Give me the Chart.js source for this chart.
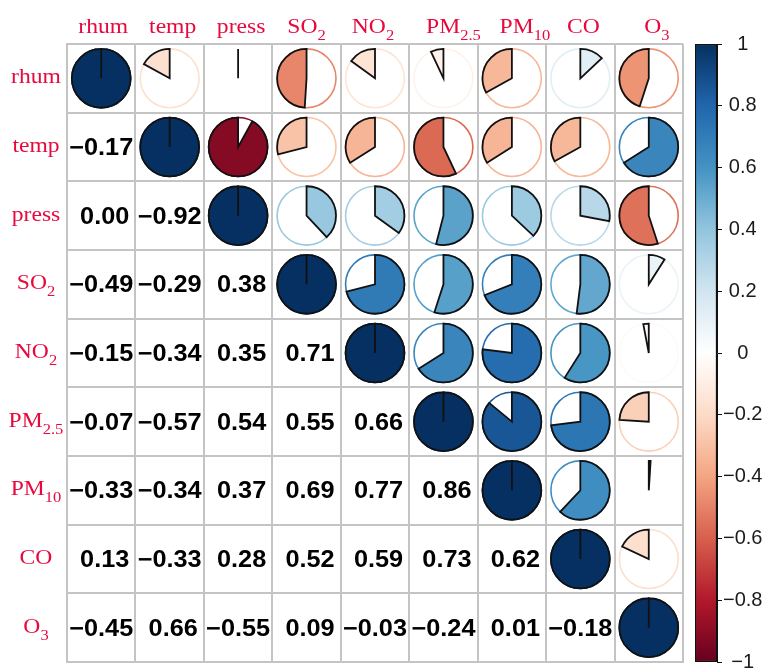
<!DOCTYPE html>
<html>
<head>
<meta charset="utf-8">
<script src="https://cdn.jsdelivr.net/npm/chart.js@4/dist/chart.umd.min.js"></script>
<style>
  html, body { margin: 0; padding: 0; background: #fff; overflow: hidden; }
  #wrap { position: relative; width: 766px; height: 670px; }
  #matrix { position: absolute; left: 0; top: 0; }
  #legend { position: absolute; left: 680px; top: 0; }
</style>
</head>
<body>
<div id="wrap">
  <canvas id="matrix" width="766" height="670"></canvas>
  <canvas id="legend" width="86" height="700"></canvas>
</div>
<script>
// Variables (matrix rows / columns, top-to-bottom and left-to-right)
const variables = ['rhum', 'temp', 'press', 'SO2', 'NO2', 'PM2.5', 'PM10', 'CO', 'O3'];
// Display form of each name: main text + subscript
const labelMain = ['rhum', 'temp', 'press', 'SO', 'NO', 'PM', 'PM', 'CO', 'O'];
const labelSub  = ['', '', '', '2', '2', '2.5', '10', '', '3'];

// Lower triangle of the Pearson correlation matrix, one row per variable
const rowRhum  = [1];
const rowTemp  = [-0.17, 1];
const rowPress = [0.00, -0.92, 1];
const rowSO2   = [-0.49, -0.29, 0.38, 1];
const rowNO2   = [-0.15, -0.34, 0.35, 0.71, 1];
const rowPM25  = [-0.07, -0.57, 0.54, 0.55, 0.66, 1];
const rowPM10  = [-0.33, -0.34, 0.37, 0.69, 0.77, 0.86, 1];
const rowCO    = [0.13, -0.33, 0.28, 0.52, 0.59, 0.73, 0.62, 1];
const rowO3    = [-0.45, 0.66, -0.55, 0.09, -0.03, -0.24, 0.01, -0.18, 1];

// Colour-bar range and tick step
const legendMin = -1;
const legendMax = 1;
const legendStep = 0.2;

// RdBu diverging palette, from -1 (dark red) to +1 (dark blue)
const rdbu = ['#67001F', '#B2182B', '#D6604D', '#F4A582', '#FDDBC7', '#FFFFFF',
              '#D1E5F0', '#92C5DE', '#4393C3', '#2166AC', '#053061'];

// ---------------------------------------------------------------------------
const lowerRows = [rowRhum, rowTemp, rowPress, rowSO2, rowNO2, rowPM25, rowPM10, rowCO, rowO3];
const corr = (i, j) => (j <= i ? lowerRows[i][j] : lowerRows[j][i]);

function hexToRgb(h) {
  return [parseInt(h.slice(1, 3), 16), parseInt(h.slice(3, 5), 16), parseInt(h.slice(5, 7), 16)];
}
function colorFor(v) {
  const t = (Math.max(-1, Math.min(1, v)) + 1) / 2 * (rdbu.length - 1);
  const k = Math.min(Math.floor(t), rdbu.length - 2);
  const f = t - k;
  const a = hexToRgb(rdbu[k]), b = hexToRgb(rdbu[k + 1]);
  const c = a.map((x, n) => Math.round(x + (b[n] - x) * f));
  return `rgb(${c[0]},${c[1]},${c[2]})`;
}
function formatCorr(v) {
  return (v < 0 ? '\u2212' : ' ') + Math.abs(v).toFixed(2);
}

// Upper triangle (incl. diagonal) shown as pies, lower triangle as numbers
const pieData = [];
const numData = [];
for (let i = 0; i < variables.length; i++) {
  for (let j = 0; j < variables.length; j++) {
    const pt = { x: variables[j], y: variables[i], v: corr(i, j) };
    if (j >= i) pieData.push(pt); else numData.push(pt);
  }
}

// Text styling
const serif = '"Liberation Serif", "Times New Roman", serif';
const sans = '"Liberation Sans", Arial, Helvetica, sans-serif';
const labelColor = '#E8083E';
const textStretch = 1.18;
const numberStretch = 1.1;
const topLabelShift = [2, 3, 3, 0, -2, 10, 13, 3, 8];

function drawName(ctx, idx, cx, baseline) {
  const mainFont = `20px ${serif}`;
  const subFont = `14px ${serif}`;
  ctx.font = mainFont;
  const wm = ctx.measureText(labelMain[idx]).width;
  ctx.font = subFont;
  const ws = labelSub[idx] ? ctx.measureText(labelSub[idx]).width : 0;
  const total = (wm + ws) * textStretch;
  ctx.save();
  ctx.translate(cx - total / 2, baseline);
  ctx.scale(textStretch, 1);
  ctx.fillStyle = labelColor;
  ctx.textAlign = 'left';
  ctx.textBaseline = 'alphabetic';
  ctx.font = mainFont;
  ctx.fillText(labelMain[idx], 0, 0);
  if (labelSub[idx]) {
    ctx.font = subFont;
    ctx.fillText(labelSub[idx], wm, 7);
  }
  ctx.restore();
}

function drawPie(ctx, x, y, r, v) {
  const col = colorFor(v);
  // thin outer ring in the value colour
  ctx.beginPath();
  ctx.arc(x, y, r, 0, Math.PI * 2);
  ctx.strokeStyle = col;
  ctx.lineWidth = 1.6;
  ctx.stroke();
  // sector from 12 o'clock: clockwise for positive, counter-clockwise for negative
  const start = -Math.PI / 2;
  const end = start + 2 * Math.PI * v;
  ctx.beginPath();
  ctx.moveTo(x, y);
  ctx.lineTo(x, y - r);
  if (Math.abs(v) > 0) ctx.arc(x, y, r, start, end, v < 0);
  ctx.closePath();
  ctx.fillStyle = col;
  ctx.fill();
  ctx.strokeStyle = '#111';
  ctx.lineWidth = 1.8;
  ctx.lineJoin = 'miter';
  ctx.stroke();
}

const matrixMarks = {
  id: 'matrixMarks',
  afterDatasetsDraw(chart) {
    const { ctx, scales: { x, y } } = chart;
    const cell = Math.abs(x.getPixelForValue(1) - x.getPixelForValue(0));
    const radius = cell * 0.43;

    const pies = chart.getDatasetMeta(0).data;
    pies.forEach((el, k) => drawPie(ctx, el.x, el.y, radius, chart.data.datasets[0].data[k].v));

    const nums = chart.getDatasetMeta(1).data;
    ctx.save();
    ctx.fillStyle = '#000';
    ctx.font = `bold 23px ${sans}`;
    ctx.textAlign = 'center';
    ctx.textBaseline = 'alphabetic';
    nums.forEach((el, k) => {
      const txt = formatCorr(chart.data.datasets[1].data[k].v);
      ctx.save();
      ctx.translate(el.x, el.y + 8);
      ctx.scale(numberStretch, 1);
      ctx.fillText(txt, 0, 0);
      ctx.restore();
    });
    ctx.restore();
  },
  afterDraw(chart) {
    const { ctx, chartArea, scales: { x, y } } = chart;
    variables.forEach((name, i) => {
      drawName(ctx, i, x.getPixelForTick(i) + topLabelShift[i], chartArea.top - 11);
      drawName(ctx, i, chartArea.left - 31, y.getPixelForTick(i) + 5);
    });
  }
};

const gridColor = '#c4c4c4';

new Chart(document.getElementById('matrix'), {
  type: 'scatter',
  data: {
    datasets: [
      { label: 'pie', data: pieData, pointRadius: 0, pointHoverRadius: 0 },
      { label: 'value', data: numData, pointRadius: 0, pointHoverRadius: 0 }
    ]
  },
  options: {
    responsive: false,
    animation: false,
    events: [],
    layout: { padding: { left: 67, top: 44, right: 83, bottom: 8 } },
    plugins: { legend: { display: false }, tooltip: { enabled: false } },
    scales: {
      x: {
        type: 'category', labels: variables, offset: true,
        grid: { offset: true, color: gridColor, lineWidth: 2, drawTicks: false },
        border: { display: true, color: gridColor, width: 2 },
        ticks: { display: false }
      },
      y: {
        type: 'category', labels: variables, offset: true,
        grid: { offset: true, color: gridColor, lineWidth: 2, drawTicks: false },
        border: { display: true, color: gridColor, width: 2 },
        ticks: { display: false }
      }
    }
  },
  plugins: [matrixMarks]
});

// Colour legend: one floating bar spanning the full correlation range
new Chart(document.getElementById('legend'), {
  type: 'bar',
  data: {
    labels: [''],
    datasets: [{
      data: [[legendMin, legendMax]],
      backgroundColor(c) {
        const chart = c.chart;
        const ys = chart.scales.y;
        if (!chart.chartArea || !ys) return '#fff';
        const g = chart.ctx.createLinearGradient(0, ys.getPixelForValue(legendMin), 0, ys.getPixelForValue(legendMax));
        rdbu.forEach((col, k) => g.addColorStop(k / (rdbu.length - 1), col));
        return g;
      },
      borderColor: '#111',
      borderWidth: 1.5,
      borderSkipped: false,
      barPercentage: 1,
      categoryPercentage: 1
    }]
  },
  options: {
    responsive: false,
    animation: false,
    events: [],
    layout: { padding: { left: 15, top: 44, right: 0, bottom: 38 } },
    plugins: { legend: { display: false }, tooltip: { enabled: false } },
    scales: {
      x: { display: false },
      y: {
        position: 'right',
        min: legendMin, max: legendMax,
        ticks: {
          stepSize: legendStep,
          padding: 1,
          crossAlign: 'center',
          color: '#1a1a1a',
          font: { family: sans, size: 20 },
          callback: (v) => String(Math.round(v * 10) / 10).replace('-', '\u2212')
        },
        grid: { drawOnChartArea: false, drawTicks: true, tickLength: 5, color: '#111', lineWidth: 1 },
        border: { display: true, color: '#111', width: 1 },
        afterFit(scale) { scale.width = 49; }
      }
    }
  }
});
</script>
</body>
</html>
